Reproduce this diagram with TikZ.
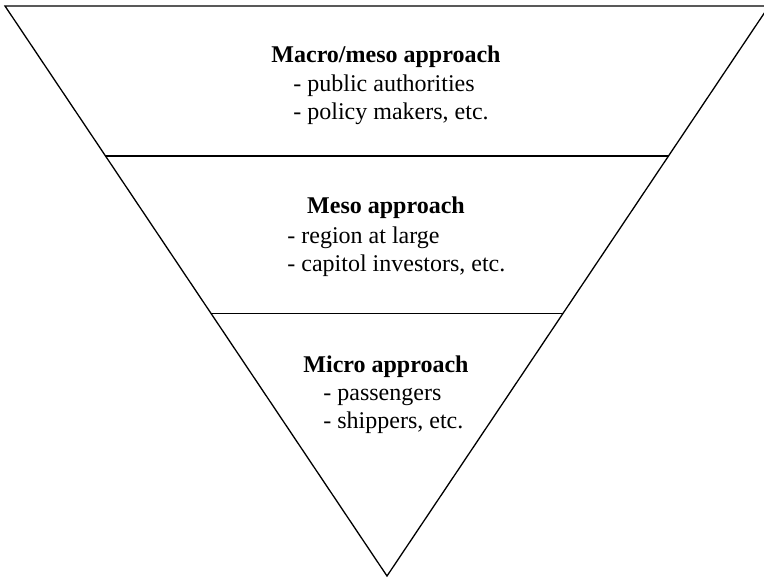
\documentclass[tikz,border=0pt]{standalone}
\usepackage{fontspec}
\setmainfont{Liberation Serif}
\usetikzlibrary{calc,positioning}

\begin{document}
\begin{tikzpicture}[x=0.5pt, y=-0.5pt,
        edge/.style={line width=0.65pt, line join=miter},
        title/.style={font=\fontsize{12}{14}\selectfont\bfseries, inner sep=0pt, anchor=base},
        items/.style={font=\fontsize{12}{14}\selectfont, inner sep=0pt, anchor=base west}
    ]
    \useasboundingbox (0,0) rectangle (764,579);
    % funnel corners
    \coordinate (topleft) at (5,6);
    \coordinate (topright) at (769,6);
    \coordinate (bottom) at (387,576);
    \draw[edge] (topleft) -- (topright) -- (bottom) -- cycle;
    % layer borders
    \coordinate (cutAl) at ($(topleft)!0.263!(bottom)$);
    \coordinate (cutAr) at ($(topright)!0.263!(bottom)$);
    \coordinate (cutBl) at ($(topleft)!0.540!(bottom)$);
    \coordinate (cutBr) at ($(topright)!0.540!(bottom)$);
    \draw[edge] (cutAl) -- (cutAr);
    \draw[edge] (cutBl) -- (cutBr);
    % layer texts (items anchored at their last line)
    \node[title] (macro) at (386,62) {Macro/meso approach};
    \node[items] (macroitems) at (293,119) {\begin{tabular}[b]{@{}l@{}}
        - public authorities\\
        - policy makers, etc.
    \end{tabular}};
    \node[title] (meso) at (386,213) {Meso approach};
    \node[items] (mesoitems) at (287,271) {\begin{tabular}[b]{@{}l@{}}
        - region at large\\
        - capitol investors, etc.
    \end{tabular}};
    \node[title] (micro) at (386,372) {Micro approach};
    \node[items] (microitems) at (323,428) {\begin{tabular}[b]{@{}l@{}}
        - passengers\\
        - shippers, etc.
    \end{tabular}};
\end{tikzpicture}
\end{document}
